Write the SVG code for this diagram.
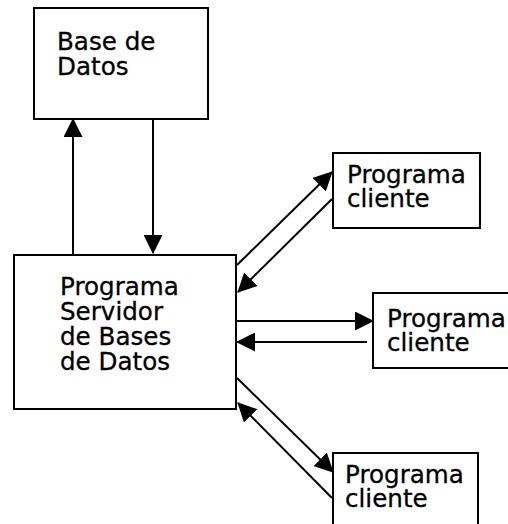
<svg xmlns="http://www.w3.org/2000/svg" width="508" height="524" viewBox="0 0 508 524">
<style>
.box{fill:#fff;stroke:#000;stroke-width:2}
.t{font-family:"DejaVu Sans",Verdana,sans-serif;font-size:24.6px;fill:#000;stroke:#000;stroke-width:0.3}
.c{stroke:#000;stroke-width:2;fill:none;marker-end:url(#ah)}
</style>
<defs>
<marker id="ah" markerUnits="userSpaceOnUse" markerWidth="19" markerHeight="19" refX="18" refY="9.5" orient="auto">
<path d="M0,0 L19,9.5 L0,19 z" fill="#000"/>
</marker>
</defs>
<rect width="508" height="524" fill="#fff"/>
<g id="basedatos">
<rect class="box" x="34" y="8" width="174" height="111"/>
<text class="t" x="57" y="50">Base de</text>
<text class="t" x="57" y="75">Datos</text>
</g>
<g id="servidor">
<rect class="box" x="14" y="255" width="222" height="154"/>
<text class="t" x="60" y="295">Programa</text>
<text class="t" x="60" y="320">Servidor</text>
<text class="t" x="60" y="345">de Bases</text>
<text class="t" x="60" y="370">de Datos</text>
</g>
<g id="cliente1">
<rect class="box" x="333" y="153" width="147" height="75"/>
<text class="t" x="347" y="183">Programa</text>
<text class="t" x="347" y="207">cliente</text>
</g>
<g id="cliente2">
<rect class="box" x="373" y="293" width="140" height="75"/>
<text class="t" x="387" y="327">Programa</text>
<text class="t" x="387" y="351">cliente</text>
</g>
<g id="cliente3">
<rect class="box" x="333" y="453" width="145" height="80"/>
<text class="t" x="345" y="483">Programa</text>
<text class="t" x="345" y="507">cliente</text>
</g>
<g id="connectors">
<line class="c" x1="73" y1="255" x2="73" y2="119"/>
<line class="c" x1="153" y1="119" x2="153" y2="253"/>
<line class="c" x1="237" y1="265" x2="332" y2="172"/>
<line class="c" x1="332" y1="199" x2="238" y2="292"/>
<line class="c" x1="236" y1="321" x2="373" y2="321"/>
<line class="c" x1="367" y1="342" x2="237" y2="342"/>
<line class="c" x1="237" y1="378" x2="333" y2="472"/>
<line class="c" x1="332" y1="498" x2="238" y2="403"/>
</g>
</svg>
